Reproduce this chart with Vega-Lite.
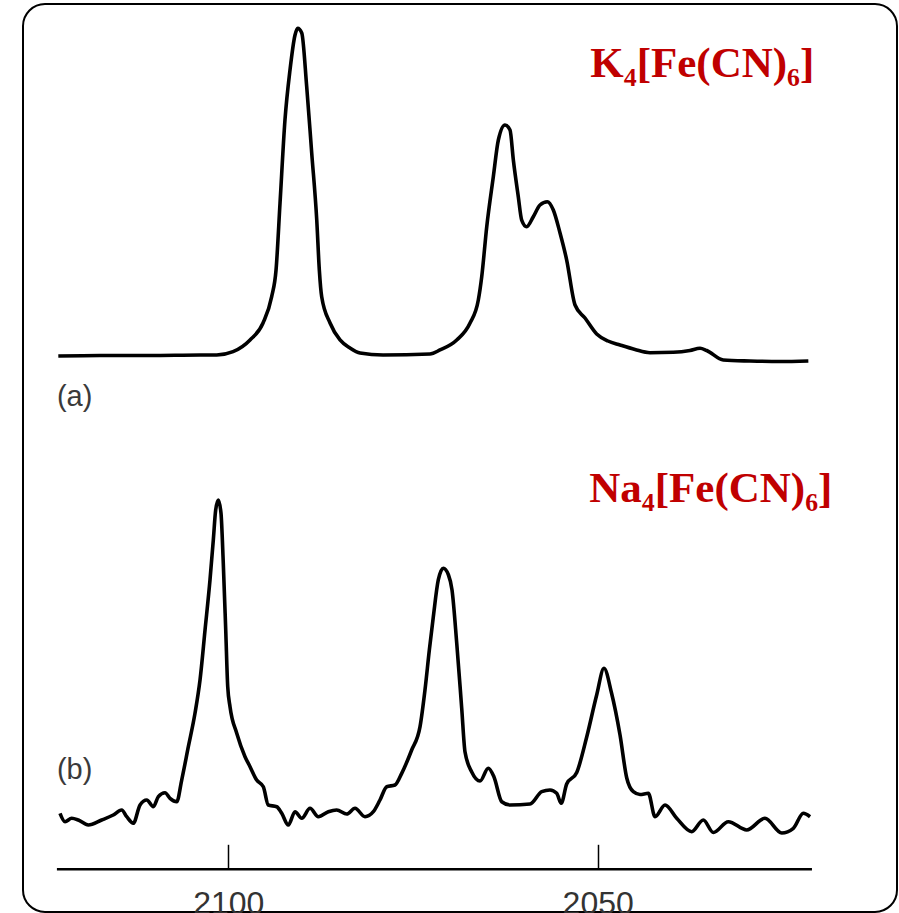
{
  "$schema": "https://vega.github.io/schema/vega-lite/v6.json",
  "width": 874,
  "height": 908,
  "autosize": {"type": "none"},
  "padding": {"left": 23, "top": 4, "right": 2, "bottom": 1},
  "background": "#ffffff",
  "config": {
    "view": {"stroke": "#000000", "strokeWidth": 2, "cornerRadius": 22},
    "axis": {"grid": false}
  },
  "datasets": {
    "a": [
      {"w": 2123.01, "v": -0.31}, {"w": 2117.37, "v": -0.15}, {"w": 2110.60, "v": -0.15}, {"w": 2103.83, "v": 0},
      {"w": 2101.57, "v": 0}, {"w": 2099.36, "v": 1.01}, {"w": 2097.06, "v": 4.59}, {"w": 2095.30, "v": 9.79},
      {"w": 2094.13, "v": 17.83}, {"w": 2093.54, "v": 25.99}, {"w": 2093.00, "v": 46.48}, {"w": 2092.33, "v": 71.87},
      {"w": 2091.65, "v": 87.16}, {"w": 2090.97, "v": 97.86}, {"w": 2090.61, "v": 99.91}, {"w": 2090.06, "v": 98.47},
      {"w": 2089.39, "v": 82.05}, {"w": 2088.71, "v": 61.77}, {"w": 2088.03, "v": 41.28}, {"w": 2087.68, "v": 25.99},
      {"w": 2087.36, "v": 17.83}, {"w": 2086.23, "v": 9.79}, {"w": 2084.88, "v": 4.59}, {"w": 2083.53, "v": 2.14},
      {"w": 2082.17, "v": 0.61}, {"w": 2079.06, "v": 0}, {"w": 2072.70, "v": 0.31}, {"w": 2071.35, "v": 1.53},
      {"w": 2069.08, "v": 4.59}, {"w": 2067.28, "v": 9.79}, {"w": 2066.16, "v": 16.82}, {"w": 2065.70, "v": 23.94},
      {"w": 2065.02, "v": 39.24}, {"w": 2064.13, "v": 54.53}, {"w": 2063.45, "v": 65.75}, {"w": 2062.55, "v": 70.34},
      {"w": 2061.87, "v": 68.81}, {"w": 2061.42, "v": 59.63}, {"w": 2060.75, "v": 48.41}, {"w": 2060.29, "v": 41.28},
      {"w": 2059.61, "v": 39.24}, {"w": 2058.72, "v": 42.29}, {"w": 2057.81, "v": 45.87}, {"w": 2056.82, "v": 46.88},
      {"w": 2056.01, "v": 44.34}, {"w": 2055.10, "v": 37.31}, {"w": 2054.20, "v": 29.05}, {"w": 2053.07, "v": 15.29},
      {"w": 2051.72, "v": 11.31}, {"w": 2050.14, "v": 6.42}, {"w": 2048.61, "v": 4.28}, {"w": 2046.98, "v": 3.06},
      {"w": 2044.95, "v": 1.68}, {"w": 2042.92, "v": 0.70}, {"w": 2039.77, "v": 0.83}, {"w": 2037.51, "v": 1.38},
      {"w": 2036.15, "v": 2.05}, {"w": 2035.25, "v": 1.38}, {"w": 2033.00, "v": -1.53}, {"w": 2029.39, "v": -1.83},
      {"w": 2025.33, "v": -1.99}, {"w": 2021.49, "v": -1.83}
    ],
    "b": [
      {"w": 2122.78, "v": 2.70}, {"w": 2122.10, "v": 0.09}, {"w": 2121.20, "v": 1.15}, {"w": 2120.30, "v": 0.62},
      {"w": 2118.95, "v": -0.93}, {"w": 2117.14, "v": 0.62}, {"w": 2115.57, "v": 2.17}, {"w": 2114.43, "v": 3.73},
      {"w": 2113.75, "v": 1.65}, {"w": 2112.86, "v": -0.40}, {"w": 2111.95, "v": 5.28}, {"w": 2111.04, "v": 6.83},
      {"w": 2110.15, "v": 4.75}, {"w": 2109.47, "v": 7.86}, {"w": 2108.57, "v": 9.10}, {"w": 2107.89, "v": 7.36},
      {"w": 2106.98, "v": 6.30}, {"w": 2106.31, "v": 13.04}, {"w": 2105.41, "v": 23.39}, {"w": 2104.51, "v": 33.76},
      {"w": 2103.83, "v": 44.10}, {"w": 2103.15, "v": 59.63}, {"w": 2102.48, "v": 75.16}, {"w": 2102.03, "v": 87.58},
      {"w": 2101.71, "v": 96.89}, {"w": 2101.35, "v": 100.00}, {"w": 2100.99, "v": 95.87}, {"w": 2100.68, "v": 80.34},
      {"w": 2100.35, "v": 59.63}, {"w": 2100.08, "v": 42.02}, {"w": 2099.77, "v": 35.81}, {"w": 2098.86, "v": 27.55},
      {"w": 2097.74, "v": 20.28}, {"w": 2097.06, "v": 17.17}, {"w": 2096.16, "v": 13.04}, {"w": 2095.26, "v": 10.96},
      {"w": 2094.59, "v": 5.28}, {"w": 2093.45, "v": 4.75}, {"w": 2092.77, "v": 2.70}, {"w": 2091.88, "v": -0.93},
      {"w": 2090.97, "v": 3.20}, {"w": 2090.06, "v": 1.15}, {"w": 2088.94, "v": 4.25}, {"w": 2087.82, "v": 1.65},
      {"w": 2086.46, "v": 3.20}, {"w": 2085.33, "v": 3.73}, {"w": 2083.97, "v": 2.48}, {"w": 2082.85, "v": 4.25},
      {"w": 2081.50, "v": 1.65}, {"w": 2080.37, "v": 3.20}, {"w": 2079.47, "v": 6.83}, {"w": 2078.56, "v": 10.96},
      {"w": 2077.44, "v": 11.49}, {"w": 2076.53, "v": 15.12}, {"w": 2075.18, "v": 22.36}, {"w": 2074.05, "v": 29.60},
      {"w": 2073.38, "v": 40.99}, {"w": 2072.79, "v": 53.42}, {"w": 2072.25, "v": 63.76}, {"w": 2071.58, "v": 75.16},
      {"w": 2070.90, "v": 78.79}, {"w": 2070.20, "v": 76.71}, {"w": 2069.72, "v": 72.05}, {"w": 2069.08, "v": 55.50},
      {"w": 2068.41, "v": 35.40}, {"w": 2067.96, "v": 21.74}, {"w": 2067.05, "v": 15.53}, {"w": 2065.93, "v": 12.73},
      {"w": 2064.81, "v": 16.68}, {"w": 2064.04, "v": 13.98}, {"w": 2062.99, "v": 6.30}, {"w": 2061.87, "v": 5.28},
      {"w": 2059.16, "v": 5.59}, {"w": 2057.58, "v": 9.41}, {"w": 2056.46, "v": 9.94}, {"w": 2055.55, "v": 8.91},
      {"w": 2054.94, "v": 5.81}, {"w": 2054.20, "v": 11.80}, {"w": 2052.84, "v": 15.37}, {"w": 2051.49, "v": 26.40},
      {"w": 2050.14, "v": 39.44}, {"w": 2049.15, "v": 47.73}, {"w": 2048.13, "v": 40.06}, {"w": 2046.98, "v": 27.02},
      {"w": 2046.07, "v": 13.66}, {"w": 2045.18, "v": 9.41}, {"w": 2044.28, "v": 8.54}, {"w": 2043.15, "v": 8.91},
      {"w": 2042.24, "v": 1.65}, {"w": 2040.89, "v": 5.28}, {"w": 2039.31, "v": 1.15}, {"w": 2037.28, "v": -3.01},
      {"w": 2035.71, "v": 0.62}, {"w": 2034.35, "v": -3.26}, {"w": 2032.32, "v": 0.09}, {"w": 2029.83, "v": -2.48},
      {"w": 2027.36, "v": 1.15}, {"w": 2025.09, "v": -3.42}, {"w": 2023.52, "v": -1.96}, {"w": 2022.17, "v": 2.70},
      {"w": 2021.26, "v": 1.65}
    ],
    "tagA": [{"w": 2123.2, "v": -12.8, "label": "(a)"}],
    "tagB": [{"w": 2123.2, "v": 16.1, "label": "(b)"}],
    "nameA": [{"w": 2051.0, "v": 85.0, "label": "K₄[Fe(CN)₆]"}],
    "nameB": [{"w": 2051.14, "v": 99.5, "label": "Na₄[Fe(CN)₆]"}],
    "axisline": [{"from": 2123.2, "to": 2021.0, "v": -14.69}]
  },
  "resolve": {"scale": {"y": "independent"}},
  "layer": [
    {
      "layer": [
        {
          "data": {"name": "a"},
          "mark": {"type": "line", "color": "#000000", "strokeWidth": 3.6, "interpolate": "monotone"},
          "encoding": {
            "x": {"field": "w", "type": "quantitative", "scale": {"domain": [2127.79, 2009.49], "nice": false, "zero": false},
                  "axis": {"values": [2100, 2050], "format": "d", "title": null, "offset": -42.7, "domain": false, "grid": false,
                           "tickSize": -25, "tickWidth": 1.5, "tickColor": "#000000", "labelFont": "Liberation Sans", "labelFontSize": 32,
                           "labelColor": "#333333", "labelPadding": 44, "labelFlush": false, "labelOverlap": false}},
            "y": {"field": "v", "type": "quantitative", "scale": {"domain": [-170.34, 107.34], "nice": false, "zero": false}, "axis": null}
          }
        },
        {
          "data": {"name": "tagA"},
          "mark": {"type": "text", "font": "Liberation Sans", "fontSize": 29, "color": "#3a3a3a", "align": "left", "baseline": "middle"},
          "encoding": {
            "x": {"field": "w", "type": "quantitative"},
            "y": {"field": "v", "type": "quantitative", "scale": {"domain": [-170.34, 107.34], "nice": false, "zero": false}, "axis": null},
            "text": {"field": "label"}
          }
        },
        {
          "data": {"name": "nameA"},
          "mark": {"type": "text", "font": "Liberation Serif", "fontWeight": "bold", "fontSize": 43, "color": "#C00000", "align": "left", "baseline": "alphabetic"},
          "encoding": {
            "x": {"field": "w", "type": "quantitative"},
            "y": {"field": "v", "type": "quantitative", "scale": {"domain": [-170.34, 107.34], "nice": false, "zero": false}, "axis": null},
            "text": {"field": "label"}
          }
        }
      ]
    },
    {
      "layer": [
        {
          "data": {"name": "b"},
          "mark": {"type": "line", "color": "#000000", "strokeWidth": 3.6, "interpolate": "monotone"},
          "encoding": {
            "x": {"field": "w", "type": "quantitative"},
            "y": {"field": "v", "type": "quantitative", "scale": {"domain": [-27.95, 254.04], "nice": false, "zero": false}, "axis": null}
          }
        },
        {
          "data": {"name": "axisline"},
          "mark": {"type": "rule", "color": "#000000", "strokeWidth": 2.5},
          "encoding": {
            "x": {"field": "from", "type": "quantitative"},
            "x2": {"field": "to"},
            "y": {"field": "v", "type": "quantitative", "scale": {"domain": [-27.95, 254.04], "nice": false, "zero": false}, "axis": null}
          }
        },
        {
          "data": {"name": "tagB"},
          "mark": {"type": "text", "font": "Liberation Sans", "fontSize": 29, "color": "#3a3a3a", "align": "left", "baseline": "middle"},
          "encoding": {
            "x": {"field": "w", "type": "quantitative"},
            "y": {"field": "v", "type": "quantitative", "scale": {"domain": [-27.95, 254.04], "nice": false, "zero": false}, "axis": null},
            "text": {"field": "label"}
          }
        },
        {
          "data": {"name": "nameB"},
          "mark": {"type": "text", "font": "Liberation Serif", "fontWeight": "bold", "fontSize": 43, "color": "#C00000", "align": "left", "baseline": "alphabetic"},
          "encoding": {
            "x": {"field": "w", "type": "quantitative"},
            "y": {"field": "v", "type": "quantitative", "scale": {"domain": [-27.95, 254.04], "nice": false, "zero": false}, "axis": null},
            "text": {"field": "label"}
          }
        }
      ]
    }
  ]
}
